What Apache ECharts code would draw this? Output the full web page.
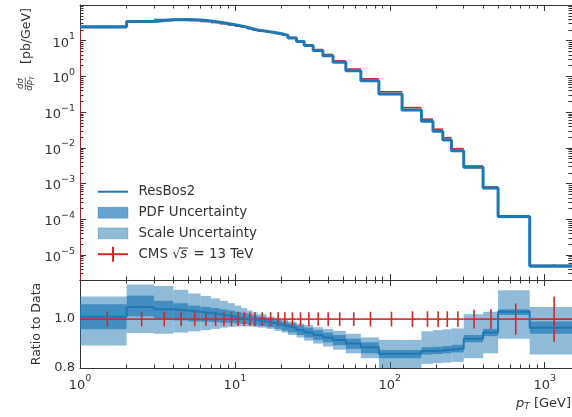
<!DOCTYPE html>
<html>
<head>
<meta charset="utf-8">
<script src="https://cdn.jsdelivr.net/npm/echarts@6/dist/echarts.min.js"></script>
<style>
  html, body { margin: 0; padding: 0; background: #ffffff; }
  #chart { width: 572px; height: 417px; }
</style>
</head>
<body>
<div id="chart"></div>
<script>
// Z boson transverse momentum spectrum: ResBos2 prediction vs CMS 13 TeV data

// pT bin edges [GeV]
const binEdges = [1, 2, 3, 4, 5, 6, 7, 8, 9, 10, 11, 12, 13, 14, 16, 18, 20, 22, 25, 28,
  32, 37, 43, 52, 65, 85, 120, 160, 190, 220, 250, 300, 400, 500, 800, 1500];

// CMS measured dsigma/dpT [pb/GeV], one per bin
const cmsValues = [24.3, 33.0, 37.1, 37.9, 36.9, 34.6, 32.4, 30.0, 27.7, 25.7,
  23.9, 21.7, 20.0, 18.7, 17.3, 16.0, 14.7, 12.3, 9.95, 7.72,
  5.67, 4.11, 2.73, 1.61, 0.859, 0.373, 0.134, 0.0636, 0.0333, 0.0191,
  0.00951, 0.00311, 0.000802, 0.000116, 5.08e-6];

// CMS relative uncertainty per bin
const cmsRelErr = [0.030, 0.030, 0.030, 0.029, 0.029, 0.028, 0.028, 0.028, 0.028, 0.028,
  0.028, 0.028, 0.028, 0.028, 0.028, 0.028, 0.028, 0.028, 0.028, 0.028,
  0.028, 0.028, 0.028, 0.028, 0.030, 0.030, 0.032, 0.032, 0.032, 0.032,
  0.032, 0.038, 0.040, 0.064, 0.093];

// ResBos2 / data, central value per bin
const resbosRatio = [1.010, 1.050, 1.040, 1.035, 1.030, 1.025, 1.020, 1.015, 1.010, 1.005,
  1.000, 0.998, 0.995, 0.990, 0.985, 0.978, 0.972, 0.965, 0.955, 0.945,
  0.935, 0.925, 0.915, 0.900, 0.885, 0.858, 0.858, 0.870, 0.872, 0.876,
  0.880, 0.920, 0.945, 1.030, 0.965];

// PDF uncertainty band (ratio to data)
const pdfLow = [0.959, 1.011, 1.000, 0.995, 0.990, 0.990, 0.988, 0.985, 0.985, 0.982,
  0.980, 0.978, 0.975, 0.972, 0.967, 0.960, 0.953, 0.945, 0.935, 0.925,
  0.915, 0.905, 0.893, 0.878, 0.860, 0.840, 0.840, 0.855, 0.857, 0.860,
  0.864, 0.905, 0.930, 1.017, 0.940];
const pdfHigh = [1.061, 1.096, 1.075, 1.065, 1.055, 1.050, 1.045, 1.040, 1.035, 1.030,
  1.025, 1.020, 1.015, 1.010, 1.003, 0.996, 0.990, 0.983, 0.975, 0.965,
  0.955, 0.945, 0.935, 0.920, 0.905, 0.874, 0.874, 0.885, 0.887, 0.890,
  0.895, 0.935, 0.960, 1.040, 0.990];

// Scale uncertainty band (ratio to data)
const scaleLow = [0.892, 0.943, 0.940, 0.945, 0.950, 0.955, 0.960, 0.965, 0.968, 0.970,
  0.970, 0.970, 0.968, 0.965, 0.960, 0.952, 0.945, 0.935, 0.925, 0.912,
  0.900, 0.888, 0.875, 0.860, 0.840, 0.800, 0.800, 0.817, 0.820, 0.822,
  0.825, 0.840, 0.860, 0.920, 0.855];
const scaleHigh = [1.092, 1.142, 1.135, 1.120, 1.105, 1.095, 1.085, 1.075, 1.065, 1.055,
  1.045, 1.035, 1.028, 1.020, 1.010, 1.002, 0.997, 0.990, 0.982, 0.975,
  0.967, 0.960, 0.952, 0.940, 0.925, 0.915, 0.915, 0.950, 0.955, 0.958,
  0.962, 1.020, 1.030, 1.118, 1.050];

// axis ticks
const xMajorTicks = [1, 10, 100, 1000];
const yMajorTicks = [1e-5, 1e-4, 1e-3, 1e-2, 1e-1, 1, 10, 100];
const ratioTicks = [0.8, 1.0];

function minorTicksFor(majors, upTo) {
  const out = [];
  majors.forEach(function (m) {
    for (let k = 2; k <= 9; k++) {
      const v = m * k;
      if (v <= upTo) out.push(v);
    }
  });
  return out;
}
const xMinorTicks = minorTicksFor(xMajorTicks, 1500);
const yMinorTicks = minorTicksFor([1e-6].concat(yMajorTicks), 100).filter(function (v) { return v >= 2e-6; });

const X_MIN = 1, X_MAX = 1500;
const Y_MIN = 2e-6, Y_MAX = 100;
const R_MIN = 0.8, R_MAX = 1.16;

const FONT = 'DejaVu Sans';
const INK = '#333333';
const SPINE = '#333333';
const BLUE = '#1f77b4';
const RED = '#d62728';
const SCALE_FILL = 'rgba(31,119,180,0.5)';
const PDF_FILL = 'rgba(31,119,180,0.68)';

const bins = cmsValues.map(function (v, i) { return i; });
const resbosValues = cmsValues.map(function (v, i) { return v * resbosRatio[i]; });

function stepPoints(vals) {
  const pts = [];
  vals.forEach(function (v, i) {
    pts.push([binEdges[i], v]);
    pts.push([binEdges[i + 1], v]);
  });
  return pts;
}

function powerLabel(v) {
  const e = Math.round(Math.log10(v));
  const s = String(e).replace('-', '\u2212');
  return '{b|10}{s|' + s + '}';
}
const powerRich = {
  b: { fontFamily: FONT, fontSize: 13, color: INK, lineHeight: 18, verticalAlign: 'bottom' },
  s: { fontFamily: FONT, fontSize: 9.5, color: INK, lineHeight: 10, verticalAlign: 'top' }
};

function xAxisDef(grid, pos, ticks, len, showLine, withLabels) {
  return {
    type: 'log', logBase: 10, gridIndex: grid, position: pos,
    min: X_MIN, max: X_MAX,
    axisLine: { show: showLine, onZero: false, lineStyle: { color: SPINE, width: 1 } },
    axisTick: { show: true, inside: true, length: len, customValues: ticks,
      lineStyle: { color: SPINE, width: 1 } },
    axisLabel: withLabels ? {
      show: true, customValues: ticks, margin: 6, formatter: powerLabel, rich: powerRich
    } : { show: false },
    splitLine: { show: false }, minorTick: { show: false }
  };
}
function yLogAxisDef(grid, pos, ticks, len, showLine, withLabels) {
  return {
    type: 'log', logBase: 10, gridIndex: grid, position: pos,
    min: Y_MIN, max: Y_MAX,
    axisLine: { show: showLine, onZero: false, lineStyle: { color: SPINE, width: 1 } },
    axisTick: { show: true, inside: true, length: len, customValues: ticks,
      lineStyle: { color: SPINE, width: 1 } },
    axisLabel: withLabels ? {
      show: true, customValues: ticks.filter(function (v) { return v < 50; }), margin: 5,
      formatter: powerLabel, rich: powerRich
    } : { show: false },
    splitLine: { show: false }, minorTick: { show: false }
  };
}
function yRatioAxisDef(pos, withLabels) {
  const ax = {
    type: 'value', gridIndex: 1, position: pos, min: R_MIN, max: R_MAX,
    axisLine: { show: true, onZero: false, lineStyle: { color: SPINE, width: 1 } },
    axisTick: { show: true, inside: true, length: 6, customValues: ratioTicks,
      lineStyle: { color: SPINE, width: 1 } },
    axisLabel: withLabels ? {
      show: true, customValues: ratioTicks, margin: 5,
      formatter: function (v) { return v.toFixed(1); },
      fontFamily: FONT, fontSize: 13, color: INK
    } : { show: false },
    splitLine: { show: false }
  };
  if (withLabels) {
    ax.name = 'Ratio to Data';
    ax.nameLocation = 'middle';
    ax.nameGap = 28;
    ax.nameRotate = 90;
    ax.nameTextStyle = { fontFamily: FONT, fontSize: 12.5, color: INK };
  }
  return ax;
}

// rectangles per bin between two value arrays
function bandSeries(xi, yi, lowOf, highOf, fill) {
  return {
    type: 'custom', xAxisIndex: xi, yAxisIndex: yi, data: bins, silent: true,
    renderItem: function (params, api) {
      const i = api.value(0);
      const p0 = api.coord([binEdges[i], highOf(i)]);
      const p1 = api.coord([binEdges[i + 1], lowOf(i)]);
      return { type: 'rect', shape: { x: p0[0], y: p0[1], width: p1[0] - p0[0], height: p1[1] - p0[1] },
        style: { fill: fill } };
    }
  };
}

// CMS points with bin-width horizontal bars and vertical uncertainties
function crossSeries(xi, yi, centerOf, withFloor) {
  return {
    type: 'custom', xAxisIndex: xi, yAxisIndex: yi, data: bins, silent: true,
    renderItem: function (params, api) {
      const i = api.value(0);
      const c = centerOf(i);
      const mid = (binEdges[i] + binEdges[i + 1]) / 2;
      const a = api.coord([binEdges[i], c]);
      const b = api.coord([binEdges[i + 1], c]);
      const t = api.coord([mid, c * (1 + cmsRelErr[i])]);
      const d = api.coord([mid, c * (1 - cmsRelErr[i])]);
      const st = { stroke: RED, lineWidth: 1.6 };
      const children = [
        { type: 'line', shape: { x1: a[0], y1: a[1], x2: b[0], y2: b[1] }, style: st },
        { type: 'line', shape: { x1: t[0], y1: t[1], x2: d[0], y2: d[1] }, style: st }
      ];
      if (withFloor && i === 0) {
        const f = api.coord([binEdges[0], Y_MIN]);
        children.push({ type: 'line', shape: { x1: f[0] + 0.5, y1: f[1], x2: a[0] + 0.5, y2: a[1] },
          style: { stroke: 'rgba(214,39,40,0.6)', lineWidth: 1 } });
      }
      return { type: 'group', children: children };
    }
  };
}

const series = [
  // upper panel
  bandSeries(0, 0, function (i) { return cmsValues[i] * scaleLow[i]; },
    function (i) { return cmsValues[i] * scaleHigh[i]; }, SCALE_FILL),
  bandSeries(0, 0, function (i) { return cmsValues[i] * pdfLow[i]; },
    function (i) { return cmsValues[i] * pdfHigh[i]; }, PDF_FILL),
  crossSeries(0, 0, function (i) { return cmsValues[i]; }, true),
  {
    type: 'line', xAxisIndex: 0, yAxisIndex: 0, data: stepPoints(resbosValues),
    symbol: 'none', silent: true, lineStyle: { color: BLUE, width: 3 }
  },
  // ratio panel
  bandSeries(4, 4, function (i) { return scaleLow[i]; }, function (i) { return scaleHigh[i]; }, SCALE_FILL),
  bandSeries(4, 4, function (i) { return pdfLow[i]; }, function (i) { return pdfHigh[i]; }, PDF_FILL),
  {
    type: 'line', xAxisIndex: 4, yAxisIndex: 4, data: stepPoints(resbosRatio),
    symbol: 'none', silent: true, lineStyle: { color: BLUE, width: 2 }
  },
  crossSeries(4, 4, function () { return 1; }, false)
];

// text metrics for the legend line with the square root
const measureCtx = document.createElement('canvas').getContext('2d');
function textWidth(txt, font) { measureCtx.font = font; return measureCtx.measureText(txt).width; }

const LEG_X = 98, LEG_W = 30, LEG_TX = 138.5, LEG_FS = 13.4;
const legY = [191.7, 212.7, 233.4, 254.2];
const legFont = LEG_FS + 'px "' + FONT + '"';
const legItalic = 'italic ' + legFont;
const wCms = textWidth('CMS ', legFont);
const wRad = textWidth('\u221A', legFont);
const wS = textWidth('s', legItalic);

const graphic = [
  // legend
  { type: 'line', shape: { x1: LEG_X, y1: legY[0], x2: LEG_X + LEG_W, y2: legY[0] },
    style: { stroke: BLUE, lineWidth: 2 } },
  { type: 'rect', shape: { x: LEG_X, y: legY[1] - 5.5, width: LEG_W, height: 11 },
    style: { fill: PDF_FILL, stroke: 'rgba(31,119,180,0.35)', lineWidth: 1 } },
  { type: 'rect', shape: { x: LEG_X, y: legY[2] - 5.5, width: LEG_W, height: 11 },
    style: { fill: SCALE_FILL, stroke: 'rgba(31,119,180,0.25)', lineWidth: 1 } },
  { type: 'line', shape: { x1: LEG_X, y1: legY[3], x2: LEG_X + LEG_W, y2: legY[3] },
    style: { stroke: RED, lineWidth: 2 } },
  { type: 'line', shape: { x1: LEG_X + LEG_W / 2, y1: legY[3] - 7.5, x2: LEG_X + LEG_W / 2, y2: legY[3] + 7.5 },
    style: { stroke: RED, lineWidth: 2 } },
  { type: 'text', x: LEG_TX, y: legY[0], style: { text: 'ResBos2', font: legFont, fill: INK, verticalAlign: 'middle' } },
  { type: 'text', x: LEG_TX, y: legY[1], style: { text: 'PDF Uncertainty', font: legFont, fill: INK, verticalAlign: 'middle' } },
  { type: 'text', x: LEG_TX, y: legY[2], style: { text: 'Scale Uncertainty', font: legFont, fill: INK, verticalAlign: 'middle' } },
  { type: 'text', x: LEG_TX, y: legY[3], style: { text: 'CMS ', font: legFont, fill: INK, verticalAlign: 'middle' } },
  { type: 'text', x: LEG_TX + wCms, y: legY[3], style: { text: '\u221A', font: legFont, fill: INK, verticalAlign: 'middle' } },
  { type: 'text', x: LEG_TX + wCms + wRad - 0.5, y: legY[3], style: { text: 's', font: legItalic, fill: INK, verticalAlign: 'middle' } },
  { type: 'line', shape: { x1: LEG_TX + wCms + wRad - 1.5, y1: legY[3] - 6.2,
      x2: LEG_TX + wCms + wRad + wS + 0.5, y2: legY[3] - 6.2 },
    style: { stroke: INK, lineWidth: 0.9 } },
  { type: 'text', x: LEG_TX + wCms + wRad + wS + 1.5, y: legY[3], style: { text: ' = 13 TeV', font: legFont, fill: INK, verticalAlign: 'middle' } },

  // y axis title of the upper panel: dsigma/dpT [pb/GeV]
  { type: 'text', x: 27, y: 36, rotation: Math.PI / 2,
    style: { text: '[pb/GeV]', font: '12.5px "' + FONT + '"', fill: INK, align: 'center', verticalAlign: 'middle' } },
  { type: 'text', x: 21, y: 83.5, rotation: Math.PI / 2,
    style: { text: 'd\u03C3', font: 'italic 8.5px "' + FONT + '"', fill: INK, align: 'center', verticalAlign: 'middle' } },
  { type: 'line', shape: { x1: 25.3, y1: 77.5, x2: 25.3, y2: 90 }, style: { stroke: INK, lineWidth: 0.7 } },
  { type: 'text', x: 30, y: 83.5, rotation: Math.PI / 2,
    style: { text: '{i|dp}{t|T}', font: 'italic 8.5px "' + FONT + '"', fill: INK, align: 'center', verticalAlign: 'middle',
      rich: { i: { fontFamily: FONT, fontStyle: 'italic', fontSize: 8.5, fill: INK },
              t: { fontFamily: FONT, fontStyle: 'italic', fontSize: 6, fill: INK, padding: [4, 0, 0, 0] } } } },

  // x axis title: pT [GeV]
  { type: 'text', x: 571, y: 404,
    style: { text: '{i|p}{t|T}{n| [GeV]}', align: 'right', verticalAlign: 'middle',
      rich: { i: { fontFamily: FONT, fontStyle: 'italic', fontSize: 13, fill: INK },
              t: { fontFamily: FONT, fontStyle: 'italic', fontSize: 9, fill: INK, padding: [6, 0, 0, 0] },
              n: { fontFamily: FONT, fontSize: 13, fill: INK } } } }
];

const option = {
  animation: false,
  backgroundColor: '#ffffff',
  grid: [
    { left: 80, top: 5, width: 494, height: 275 },
    { left: 80, top: 280, width: 494, height: 88 }
  ],
  xAxis: [
    xAxisDef(0, 'bottom', xMajorTicks, 6, true, false),
    xAxisDef(0, 'bottom', xMinorTicks, 3.5, false, false),
    xAxisDef(0, 'top', xMajorTicks, 6, true, false),
    xAxisDef(0, 'top', xMinorTicks, 3.5, false, false),
    xAxisDef(1, 'bottom', xMajorTicks, 6, true, true),
    xAxisDef(1, 'bottom', xMinorTicks, 3.5, false, false),
    xAxisDef(1, 'top', xMajorTicks, 6, true, false),
    xAxisDef(1, 'top', xMinorTicks, 3.5, false, false)
  ],
  yAxis: [
    yLogAxisDef(0, 'left', yMajorTicks, 6, true, true),
    yLogAxisDef(0, 'left', yMinorTicks, 3.5, false, false),
    yLogAxisDef(0, 'right', yMajorTicks, 6, true, false),
    yLogAxisDef(0, 'right', yMinorTicks, 3.5, false, false),
    yRatioAxisDef('left', true),
    yRatioAxisDef('right', false)
  ],
  series: series,
  graphic: graphic
};

const chart = echarts.init(document.getElementById('chart'), null, { renderer: 'canvas' });
chart.setOption(option);
</script>
</body>
</html>
